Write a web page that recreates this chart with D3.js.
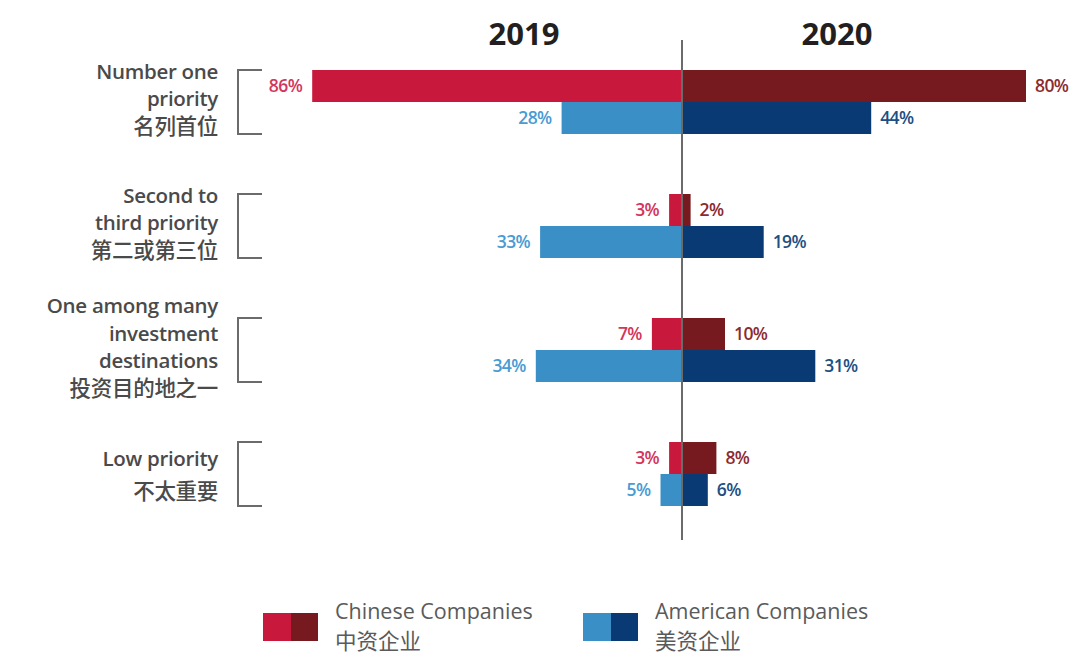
<!DOCTYPE html>
<html>
<head>
<meta charset="utf-8">
<script src="https://cdn.jsdelivr.net/npm/d3@7/dist/d3.min.js"></script>
<style>
  html, body { margin: 0; padding: 0; background: #fff; }
  svg { display: block; }
  text { font-family: "Open Sans", "Noto Sans CJK SC", sans-serif; }
</style>
</head>
<body>
<svg id="chart" width="1081" height="668"></svg>
<script>
// Priority categories (English lines + Chinese line)
const categories = [
  ["Number one", "priority", "名列首位"],
  ["Second to", "third priority", "第二或第三位"],
  ["One among many", "investment", "destinations", "投资目的地之一"],
  ["Low priority", "不太重要"]
];
const years = ["2019", "2020"];
const chinese2019  = [86, 3, 7, 3];
const chinese2020  = [80, 2, 10, 8];
const american2019 = [28, 33, 34, 5];
const american2020 = [44, 19, 31, 6];
const legendItems = [
  ["Chinese Companies", "中资企业"],
  ["American Companies", "美资企业"]
];

const colors = {
  cn19: "#c8193c", cn20: "#761a1f",
  us19: "#3a8fc6", us20: "#093a73",
  cn19Text: "#d3365c", cn20Text: "#8b2b31",
  us19Text: "#4a9bd2", us20Text: "#1d4f83",
  label: "#4a4a4a", legend: "#5a5a5a", axis: "#6b6b6b", title: "#231f20"
};

const isCJK = s => /[\u4e00-\u9fff]/.test(s);

const svg = d3.select("#chart");
const cx = 682;           // center axis
const barH = 32;
const groupStep = 124;
const groupTop = i => 70 + i * groupStep;

// bar length scale (percent -> pixels)
const len = d3.scaleLinear().domain([0, 100]).range([0, 430]);

// year headers
svg.selectAll("text.year")
  .data(years)
  .join("text")
  .attr("class", "year")
  .attr("x", (d, i) => i === 0 ? cx - 158 : cx + 155)
  .attr("y", 45)
  .attr("text-anchor", "middle")
  .attr("font-size", 31)
  .attr("font-weight", 700)
  .attr("fill", colors.title)
  .text(d => d);

// rows: four bars per category
const rows = [];
categories.forEach((c, i) => {
  const t = groupTop(i);
  rows.push({ v: chinese2019[i], side: -1, top: t, fill: colors.cn19, tc: colors.cn19Text });
  rows.push({ v: chinese2020[i], side: 1, top: t, fill: colors.cn20, tc: colors.cn20Text });
  rows.push({ v: american2019[i], side: -1, top: t + barH, fill: colors.us19, tc: colors.us19Text });
  rows.push({ v: american2020[i], side: 1, top: t + barH, fill: colors.us20, tc: colors.us20Text });
});

svg.selectAll("rect.bar")
  .data(rows)
  .join("rect")
  .attr("class", "bar")
  .attr("x", d => d.side < 0 ? cx - len(d.v) : cx)
  .attr("y", d => d.top)
  .attr("width", d => len(d.v))
  .attr("height", barH)
  .attr("fill", d => d.fill);

svg.selectAll("text.val")
  .data(rows)
  .join("text")
  .attr("class", "val")
  .attr("x", d => d.side < 0 ? cx - len(d.v) - 10 : cx + len(d.v) + 9)
  .attr("y", d => d.top + barH / 2)
  .attr("dy", "0.35em")
  .attr("text-anchor", d => d.side < 0 ? "end" : "start")
  .attr("font-size", 17.5)
  .attr("font-weight", 600)
  .attr("letter-spacing", -0.6)
  .attr("fill", d => d.tc)
  .text(d => d.v + "%");

// center axis line
svg.append("line")
  .attr("x1", cx).attr("x2", cx)
  .attr("y1", 40).attr("y2", 540)
  .attr("stroke", colors.axis)
  .attr("stroke-width", 2);

// brackets and category labels
const lineH = 27.5;
categories.forEach((lines, i) => {
  const t = groupTop(i);
  const b = t + barH * 2;
  svg.append("path")
    .attr("d", `M262,${t}H238V${b}H262`)
    .attr("fill", "none")
    .attr("stroke", colors.axis)
    .attr("stroke-width", 2);
  const gap = lines.length === 2 ? 32 : lineH;
  const mid = (t + b) / 2 - (lines.length === 2 ? -1 : 3);
  const start = mid - (lines.length - 1) * gap / 2;
  lines.forEach((s, j) => {
    svg.append("text")
      .attr("x", 218)
      .attr("y", start + j * gap)
      .attr("dy", "0.36em")
      .attr("text-anchor", "end")
      .attr("font-size", isCJK(s) ? 21.5 : 20.5)
      .attr("font-weight", isCJK(s) ? 500 : 600)
      .attr("letter-spacing", -0.3)
      .attr("fill", colors.label)
      .text(s);
  });
});

// legend
const legend = svg.selectAll("g.legend")
  .data(legendItems)
  .join("g")
  .attr("class", "legend")
  .attr("transform", (d, i) => `translate(${i === 0 ? 263 : 583},613)`);
legend.append("rect").attr("width", 28).attr("height", 28)
  .attr("fill", (d, i) => i === 0 ? colors.cn19 : colors.us19);
legend.append("rect").attr("x", 28).attr("width", 27).attr("height", 28)
  .attr("fill", (d, i) => i === 0 ? colors.cn20 : colors.us20);
legend.append("text").attr("x", 72).attr("y", -2).attr("dy", "0.36em")
  .attr("font-size", 21.5).attr("fill", colors.legend).text(d => d[0]);
legend.append("text").attr("x", 72).attr("y", 28).attr("dy", "0.36em")
  .attr("font-size", 21.5).attr("fill", colors.legend).text(d => d[1]);
</script>
</body>
</html>
